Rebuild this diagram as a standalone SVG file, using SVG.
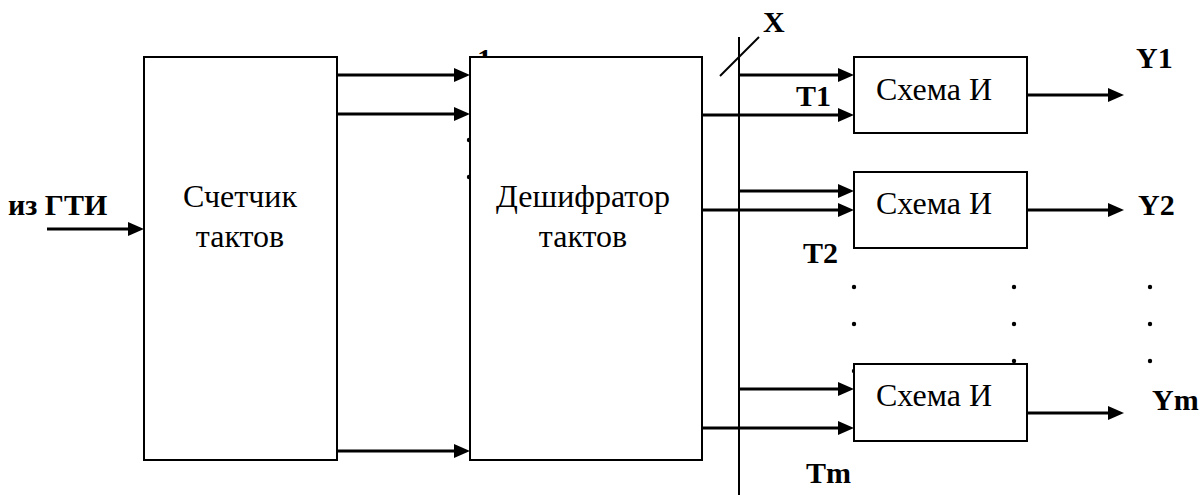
<svg xmlns="http://www.w3.org/2000/svg" width="1201" height="495" viewBox="0 0 1201 495">
<defs>
<style>
.box{fill:#fff;stroke:#000;stroke-width:2}
.t{font-family:'Liberation Serif','Times New Roman',serif;font-size:32px;fill:#000}
.b{font-family:'Liberation Serif','Times New Roman',serif;font-size:30px;font-weight:bold;fill:#000}
.a{stroke:#000;stroke-width:3;fill:none;marker-end:url(#ah)}
.bus{stroke:#000;stroke-width:2;fill:none}
.dot{fill:#000}
</style>
<marker id="ah" markerUnits="userSpaceOnUse" markerWidth="16" markerHeight="14" refX="7" refY="7" orient="auto">
<path d="M0,0 L16,7 L0,14 Z" fill="#000"/>
</marker>
</defs>
<rect width="1201" height="495" fill="#fff"/>

<text class="b" x="477" y="69">1</text>

<g id="connectors">
<line class="a" x1="47" y1="229" x2="135" y2="229"/>
<line class="a" x1="337" y1="75" x2="461" y2="75"/>
<line class="a" x1="337" y1="114" x2="461" y2="114"/>
<line class="a" x1="337" y1="451" x2="461" y2="451"/>
<line class="bus" x1="739" y1="37" x2="739" y2="495"/>
<line class="bus" x1="720" y1="76" x2="759" y2="37"/>
<line class="a" x1="739" y1="75" x2="845" y2="75"/>
<line class="a" x1="702" y1="115" x2="845" y2="115"/>
<line class="a" x1="739" y1="191" x2="845" y2="191"/>
<line class="a" x1="702" y1="210" x2="845" y2="210"/>
<line class="a" x1="739" y1="389" x2="845" y2="389"/>
<line class="a" x1="702" y1="428" x2="845" y2="428"/>
<line class="a" x1="1027" y1="95" x2="1115" y2="95"/>
<line class="a" x1="1027" y1="210" x2="1115" y2="210"/>
<line class="a" x1="1027" y1="413" x2="1115" y2="413"/>
</g>

<g id="dots">
<circle class="dot" cx="469" cy="140" r="2.2"/>
<circle class="dot" cx="469" cy="177" r="2.2"/>
<circle class="dot" cx="854" cy="287" r="2.2"/>
<circle class="dot" cx="854" cy="324" r="2.2"/>
<circle class="dot" cx="854" cy="371" r="2.2"/>
<circle class="dot" cx="1014" cy="287" r="2.2"/>
<circle class="dot" cx="1014" cy="324" r="2.2"/>
<circle class="dot" cx="1014" cy="361" r="2.2"/>
<circle class="dot" cx="1150" cy="287" r="2.2"/>
<circle class="dot" cx="1150" cy="324" r="2.2"/>
<circle class="dot" cx="1150" cy="361" r="2.2"/>
</g>

<g id="counter">
<rect class="box" x="144" y="57" width="193" height="403"/>
<text class="t" x="240" y="207" text-anchor="middle">Счетчик</text>
<text class="t" x="240" y="247" text-anchor="middle">тактов</text>
</g>

<g id="decoder">
<rect class="box" x="470" y="57" width="232" height="403"/>
<text class="t" x="583" y="207" text-anchor="middle">Дешифратор</text>
<text class="t" x="583" y="247" text-anchor="middle">тактов</text>
</g>

<g id="and1">
<rect class="box" x="854" y="57" width="173" height="76"/>
<text class="t" x="934" y="100" text-anchor="middle">Схема И</text>
</g>
<g id="and2">
<rect class="box" x="854" y="172" width="173" height="76"/>
<text class="t" x="934" y="214" text-anchor="middle">Схема И</text>
</g>
<g id="and3">
<rect class="box" x="854" y="364" width="173" height="77"/>
<text class="t" x="934" y="406" text-anchor="middle">Схема И</text>
</g>

<g id="labels">
<text class="b" x="8" y="215" font-size="31">из ГТИ</text>
<text class="b" x="763" y="32">X</text>
<text class="b" x="796" y="106">T1</text>
<text class="b" x="803" y="263">T2</text>
<text class="b" x="806" y="483">Tm</text>
<text class="b" x="1136" y="68">Y1</text>
<text class="b" x="1138" y="215">Y2</text>
<text class="b" x="1152" y="410">Ym</text>
</g>
</svg>
